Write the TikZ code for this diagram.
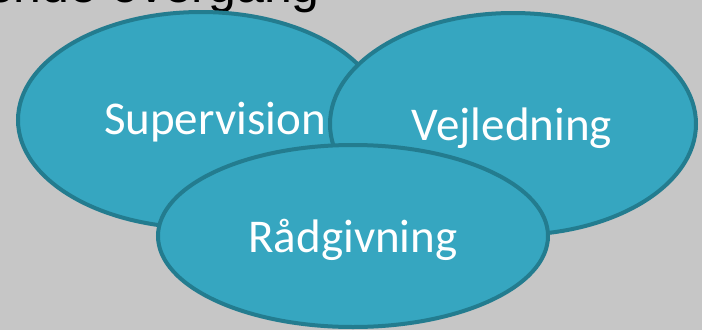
\documentclass[tikz,border=0pt]{standalone}
\usepackage{fontspec}
\setmainfont{Carlito}
\newfontfamily\titlefont{Liberation Sans}
\usetikzlibrary{shapes.geometric}
\definecolor{bg}{RGB}{198,198,198}
\definecolor{ellfill}{RGB}{54,166,192}
\definecolor{ellline}{RGB}{35,124,143}
\tikzset{
  bubble/.style={ellipse, draw=ellline, fill=ellfill, line width=4pt, inner sep=0pt},
  bubbletext/.style={text=white, font=\fontsize{47}{50}\selectfont, inner sep=0pt},
}
\begin{document}
\begin{tikzpicture}[x=1pt,y=-1pt]
\useasboundingbox (0,0) rectangle (702,330);
\clip (0,0) rectangle (702,330);
\fill[bg] (0,0) rectangle (702,330);
\node[anchor=base east, inner sep=0pt, font=\titlefont\fontsize{50}{52}\selectfont] (title) at (320,2) {Glidende overgang};
\node[bubble, minimum width=366pt, minimum height=216pt] (sup) at (201,120) {};
\node[bubble, minimum width=366pt, minimum height=222pt] (vej) at (513,124) {};
\node[bubble, minimum width=390pt, minimum height=182pt] (rad) at (353,236) {};
\node[bubbletext] (tsup) at (215,122) {Supervision};
\node[bubbletext] (tvej) at (512,128) {Vejledning};
\node[bubbletext] (trad) at (353,240) {Rådgivning};
\end{tikzpicture}
\end{document}
